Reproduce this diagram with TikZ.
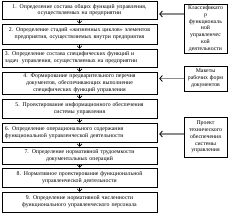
\documentclass[tikz,border=0pt]{standalone}
\usepackage{fontspec}
\setmainfont{Liberation Serif}
\usetikzlibrary{shadows,arrows.meta}
\begin{document}
\begin{tikzpicture}[x=1pt,y=-1pt,
  boxbase/.style={draw, line width=0.5pt, fill=white, inner sep=0pt,
    font=\fontsize{5.8}{6.8}\selectfont,
    drop shadow={shadow xshift=0.8pt,shadow yshift=-0.8pt,fill=black!85,opacity=1}},
  lbox/.style={boxbase, minimum width=155pt, text width=149pt, align=center},
  lboxl/.style={boxbase, minimum width=155pt, text width=149pt, align=left},
  rbox/.style={boxbase, minimum width=43pt, text width=42pt, align=center},
  varrow/.style={line width=0.5pt, -{Straight Barb[length=2.5pt,width=5pt,line width=0.7pt]}},
  harrow/.style={draw=black!45, line width=1.6pt, shorten >=2pt,
    -{Straight Barb[length=2.6pt,width=6pt,line width=0.8pt,color=black]}}
]
\useasboundingbox (0,0) rectangle (232,213);

\node[lbox, minimum height=18pt] (b1) at (79.5,10)
  {1. Определение состава общих функций управления,\\ осуществляемых на предприятии};
\node[lbox, minimum height=20pt] (b2) at (79.5,34)
  {2. Определение стадий «жизненных циклов» элементов\\ предприятия, осуществляемых внутри предприятия};
\node[lboxl, minimum height=18pt] (b3) at (79.5,58)
  {3. Определение состава специфических функций и\\ задач\ \ управления, осуществляемых на предприятии};
\node[lbox, minimum height=22pt] (b4) at (79.5,83)
  {4. Формирование предварительного перечня\\ документов, обеспечивающих выполнение\\ специфических функций управления};
\node[lbox, minimum height=19pt] (b5) at (79.5,108.5)
  {5. Проектирование информационного обеспечения\\ системы управления};
\node[lboxl, minimum height=19pt] (b6) at (79.5,132.5)
  {6. Определение операционального содержания\\ функциональной управленческой деятельности};
\node[lbox, minimum height=17pt] (b7) at (79.5,155.5)
  {7. Определение нормативной трудоемкости\\ документальных операций};
\node[lbox, minimum height=19pt] (b8) at (79.5,177.5)
  {8. Нормативное проектирование функциональной\\ управленческой деятельности};
\node[lbox, minimum height=20pt] (b9) at (79.5,202)
  {9. Определение нормативной численности\\ функционального управленческого персонала};

\node[rbox, minimum height=49pt] (ra) at (205.5,28.5)
  {Классификато\\ р\\ функциональ\\ ной\\ управленчес\\ кой\\ деятельности};
\node[rbox, minimum height=25pt] (rb) at (205.5,78.5)
  {Макеты\\ рабочих форм\\ документов};
\node[rbox, minimum height=40pt] (rc) at (205.5,137)
  {Проект\\ технического\\ обеспечения\\ системы\\ управления};

\draw[varrow] (b1.south) -- (b2.north);
\draw[varrow] (b2.south) -- (b3.north);
\draw[varrow] (b3.south) -- (b4.north);
\draw[varrow] (b4.south) -- (b5.north);
\draw[varrow] (b5.south) -- (b6.north);
\draw[varrow] (b6.south) -- (b7.north);
\draw[varrow] (b7.south) -- (b8.north);
\draw[varrow] (b8.south) -- (b9.north);

\draw[harrow] (ra.west |- 0,14) -- (b1.east |- 0,14);
\draw[harrow] (rb.west) -- (b4.east |- rb.west);
\draw[harrow] (rc.west |- 0,134) -- (b6.east |- 0,134);
\end{tikzpicture}
\end{document}
